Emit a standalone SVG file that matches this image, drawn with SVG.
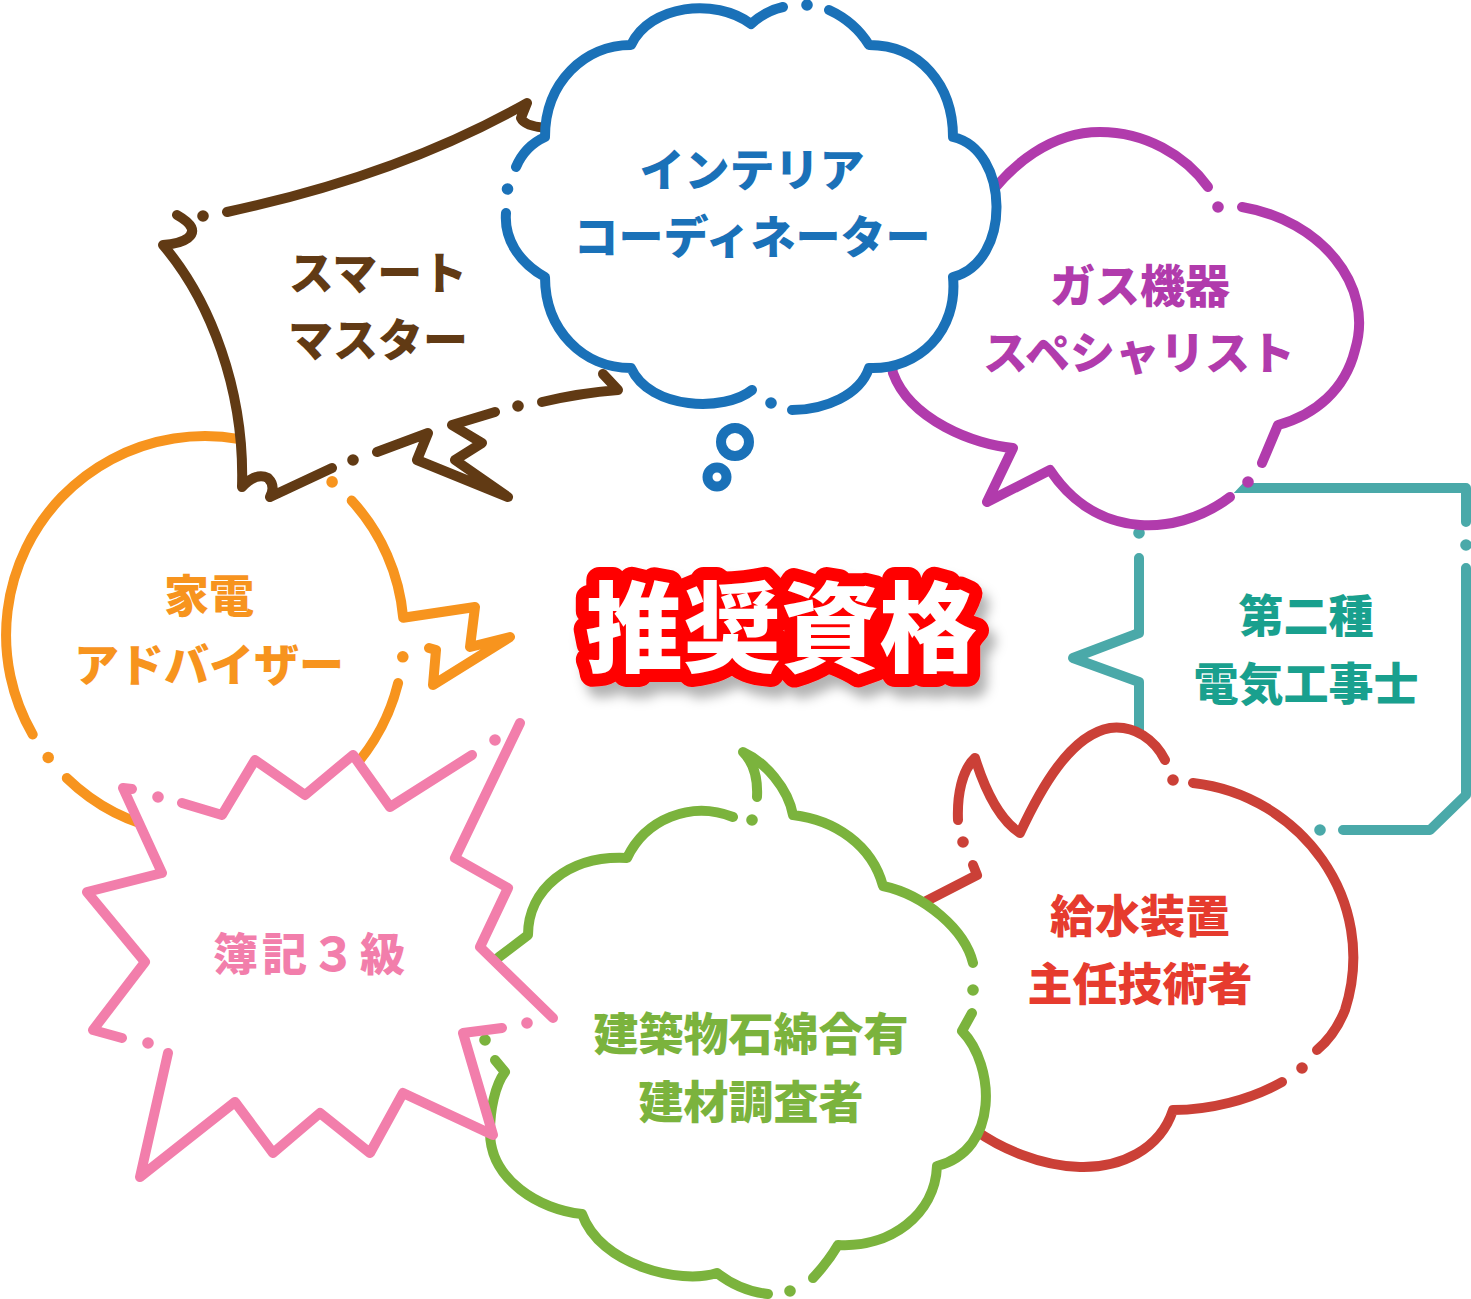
<svg xmlns="http://www.w3.org/2000/svg" width="1471" height="1299" viewBox="0 0 1471 1299">
<defs>
<style>
.ln{fill:none;stroke-width:10;stroke-linecap:round;stroke-linejoin:round}
.bg{fill:#fff;stroke:none}
.t{font-family:"Noto Sans CJK JP","Noto Sans CJK SC",sans-serif;font-weight:900;font-size:45px;text-anchor:middle}
.teal{stroke:#4aa9a9}.tealD{fill:#4aa9a9}
.red{stroke:#cb4037}.redD{fill:#cb4037}
.green{stroke:#7bb33d}.greenD{fill:#7bb33d}
.orange{stroke:#f7941e}.orangeD{fill:#f7941e}
.pink{stroke:#f27eab}.pinkD{fill:#f27eab}
.brown{stroke:#613a14}.brownD{fill:#613a14}
.purple{stroke:#b13bac}.purpleD{fill:#b13bac}
.blue{stroke:#1a71b8}.blueD{fill:#1a71b8}
</style>
<filter id="sh" x="-10%" y="-30%" width="130%" height="180%">
<feDropShadow dx="7" dy="11" stdDeviation="6" flood-color="#000" flood-opacity="0.3"/>
</filter>
</defs>
<rect width="1471" height="1299" fill="#fff"/>
<g id="connectors"/>

<g id="node-teal">
<path class="bg" d="M1139,488 L1466,488 L1466,795 L1430,830 L1139,830 L1139,682 L1073,658 L1139,633 Z"/>
<path class="ln teal" d="M1200,488 L1466,488 L1466,522"/>
<path class="ln teal" d="M1466,568 L1466,795 L1430,830 L1343,830"/>
<path class="ln teal" d="M1139,558 L1139,633 L1073,658 L1139,682 L1139,750"/>
<circle class="tealD" cx="1466" cy="545" r="5.8"/>
<circle class="tealD" cx="1320" cy="830" r="5.8"/>
<circle class="tealD" cx="1139" cy="533" r="5.8"/>
<text class="t" x="1306" y="633" fill="#19a08e">第二種</text>
<text class="t" x="1306" y="701" fill="#19a08e">電気工事士</text>
</g>

<g id="node-red">
<path class="bg" d="M975,758 C985,790 1000,820 1020,833 C1040,790 1070,735 1110,728 C1135,725 1155,740 1165,760 L1193,783 C1300,795 1380,900 1345,1010 Q1335,1035 1317,1050 L1282,1082 C1250,1100 1210,1110 1173,1110 C1160,1150 1120,1168 1080,1167 C1040,1166 1000,1148 975,1130 L905,912 L977,875 L973,865 L958,820 C957,795 962,770 975,758 Z"/>
<path class="ln red" d="M958,820 C957,795 962,770 975,758 C985,790 1000,820 1020,833 C1040,790 1070,735 1110,728 C1135,725 1155,740 1165,760"/>
<path class="ln red" d="M1193,783 C1300,795 1380,900 1345,1010 Q1335,1035 1317,1050"/>
<path class="ln red" d="M1282,1082 C1250,1100 1210,1110 1173,1110 C1160,1150 1120,1168 1080,1167 C1040,1166 1000,1148 975,1130"/>
<path class="ln red" d="M973,865 L977,875 L905,912"/>
<circle class="redD" cx="1173" cy="780" r="5.8"/>
<circle class="redD" cx="1302" cy="1068" r="5.8"/>
<circle class="redD" cx="963" cy="842" r="5.8"/>
<text class="t" x="1140" y="933" fill="#e63b2e">給水装置</text>
<text class="t" x="1140" y="1001" fill="#e63b2e">主任技術者</text>
</g>

<g id="node-green">
<path class="bg" d="M743,752 C765,762 788,788 793,815 C835,820 872,845 883,886 C925,895 965,930 973,963 L972,1013 L962,1031 C995,1065 1000,1150 937,1166 C935,1215 890,1248 838,1245 Q828,1262 813,1278 L768,1294 Q740,1291 717,1273 C680,1285 600,1265 582,1214 C540,1210 490,1180 490,1132 C490,1110 495,1085 505,1072 L495,1060 L480,990 Q485,965 499,957 L528,935 C528,890 568,855 627,858 C645,820 690,800 733,817 L757,797 C758,778 753,762 743,752 Z"/>
<path class="ln green" d="M757,797 C758,778 753,762 743,752 C765,762 788,788 793,815 C835,820 872,845 883,886 C925,895 965,930 973,963"/>
<path class="ln green" d="M972,1013 L962,1031 C995,1065 1000,1150 937,1166 C935,1215 890,1248 838,1245 Q828,1262 813,1278"/>
<path class="ln green" d="M768,1294 Q740,1291 717,1273 C680,1285 600,1265 582,1214 C540,1210 490,1180 490,1132 C490,1110 495,1085 505,1072 L495,1060"/>
<path class="ln green" d="M480,990 Q485,965 499,957 L528,935 C528,890 568,855 627,858 C645,820 690,800 733,817"/>
<circle class="greenD" cx="973" cy="990" r="5.8"/>
<circle class="greenD" cx="790" cy="1291" r="5.8"/>
<circle class="greenD" cx="485" cy="1040" r="5.8"/>
<circle class="greenD" cx="752" cy="820" r="5.8"/>
<text class="t" x="751" y="1051" fill="#7bb33d">建築物石綿合有</text>
<text class="t" x="751" y="1119" fill="#7bb33d">建材調査者</text>
</g>

<g id="node-orange">
<circle class="bg" cx="205" cy="635" r="199"/>
<path class="ln orange" d="M298.4,459.3 A199,199 0 0 0 32.7,734.5"/>
<path class="ln orange" d="M351.7,500.6 A199,199 0 0 1 403.2,617.7 L475,607 L470,647 L510,637 L433,685 L436,650 L429,648"/>
<path class="ln orange" d="M398.1,683.1 A199,199 0 0 1 332.9,787.4"/>
<path class="ln orange" d="M66.8,778.1 A199,199 0 0 0 170.4,831"/>
<circle class="orangeD" cx="332.1" cy="481.9" r="5.8"/>
<circle class="orangeD" cx="402.8" cy="656.8" r="5.8"/>
<circle class="orangeD" cx="48.2" cy="757.5" r="5.8"/>
<text class="t" x="209" y="613" font-size="44" fill="#f7941e">家電</text>
<text class="t" x="209" y="682" font-size="44" fill="#f7941e">アドバイザー</text>
</g>

<g id="node-pink">
<path class="bg" d="M123,788 L162,873 L87,892 L145,962 L93,1030 L122,1038 L168,1053 L140,1177 L235,1102 L273,1153 L320,1113 L370,1153 L403,1093 L493,1135 L463,1033 L502,1028 L553,1018 L480,947 L508,888 L455,858 L520,723 L472,755 L390,807 L353,755 L305,795 L255,760 L222,815 L182,803 Z"/>
<path class="ln pink" d="M132,789 L123,788 L162,873 L87,892 L145,962 L93,1030 L122,1038"/>
<path class="ln pink" d="M168,1053 L140,1177 L235,1102 L273,1153 L320,1113 L370,1153 L403,1093 L493,1135 L463,1033 L502,1028"/>
<path class="ln pink" d="M553,1018 L480,947 L508,888 L455,858 L520,723"/>
<path class="ln pink" d="M472,755 L390,807 L353,755 L305,795 L255,760 L222,815 L182,803"/>
<circle class="pinkD" cx="148" cy="1043" r="5.8"/>
<circle class="pinkD" cx="527" cy="1023" r="5.8"/>
<circle class="pinkD" cx="495" cy="740" r="5.8"/>
<circle class="pinkD" cx="158" cy="797" r="5.8"/>
<text class="t" x="311" y="971" letter-spacing="4" fill="#f27eab">簿記３級</text>
</g>

<g id="node-brown">
<path class="bg" d="M177,215 Q200,228 188,238 Q180,244 163,245 C210,300 245,390 242,487 Q256,472 268,478 Q276,486 270,497 L332,468 L377,452 L428,433 L417,460 L508,497 L455,460 L482,443 L452,425 L495,412 L542,402 Q580,393 618,390 L603,374 L550,128 Q525,127 521,118 L527,103 Q400,175 227,212 Z"/>
<path class="ln brown" d="M177,215 Q200,228 188,238 Q180,244 163,245 C210,300 245,390 242,487 Q256,472 268,478 Q276,486 270,497 L332,468"/>
<path class="ln brown" d="M377,452 L428,433 L417,460 L508,497 L455,460 L482,443 L452,425 L495,412"/>
<path class="ln brown" d="M542,402 Q580,393 618,390 L603,374"/>
<path class="ln brown" d="M227,212 Q400,175 527,103 L521,118 Q525,127 550,128"/>
<circle class="brownD" cx="203" cy="216" r="5.8"/>
<circle class="brownD" cx="353" cy="460" r="5.8"/>
<circle class="brownD" cx="518" cy="406" r="5.8"/>
<text class="t" x="378" y="290" font-size="44" fill="#613a14">スマート</text>
<text class="t" x="378" y="357" font-size="44" fill="#613a14">マスター</text>
</g>

<g id="node-purple">
<path class="bg" d="M975,215 C1010,160 1055,132 1100,132 C1145,132 1185,155 1208,187 L1242,207 C1320,220 1375,285 1355,350 C1345,390 1315,415 1278,425 L1262,463 L1230,497 C1200,520 1165,527 1140,525 C1100,522 1070,500 1050,470 L987,502 L1013,448 C975,445 910,420 893,373 L890,355 Z"/>
<path class="ln purple" d="M975,215 C1010,160 1055,132 1100,132 C1145,132 1185,155 1208,187"/>
<path class="ln purple" d="M1242,207 C1320,220 1375,285 1355,350 C1345,390 1315,415 1278,425 L1262,463"/>
<path class="ln purple" d="M1230,497 C1200,520 1165,527 1140,525 C1100,522 1070,500 1050,470 L987,502 L1013,448 C975,445 910,420 893,373 L890,355"/>
<circle class="purpleD" cx="1218" cy="207" r="5.8"/>
<circle class="purpleD" cx="1248" cy="482" r="5.8"/>
<text class="t" x="1140" y="303" fill="#b13bac">ガス機器</text>
<text class="t" x="1139" y="370" fill="#b13bac">スペシャリスト</text>
</g>

<g id="node-blue">
<path class="bg" d="M631,45 C650,5 715,-3 751,24 Q765,11 783,7 Q805,0 829,10 Q855,22 869,45 C920,45 953,85 953,137 C1010,150 1012,262 953,277 C958,330 920,370 869,368 C860,395 825,410 792,410 Q770,410 752,390 C725,412 650,410 631,368 C583,368 545,330 545,277 C518,262 504,238 506,213 Q503,190 516,167 Q525,146 545,137 C545,82 585,45 631,45 Z"/>
<path class="ln blue" d="M516,167 Q525,146 545,137 C545,82 585,45 631,45 C650,5 715,-3 751,24 Q765,11 783,7"/>
<path class="ln blue" d="M829,10 Q855,22 869,45 C920,45 953,85 953,137 C1010,150 1012,262 953,277 C958,330 920,370 869,368 C860,395 825,410 792,410"/>
<path class="ln blue" d="M752,390 C725,412 650,410 631,368 C583,368 545,330 545,277 C518,262 504,238 506,213"/>
<circle class="blueD" cx="807" cy="5" r="5.8"/>
<circle class="blueD" cx="771" cy="403" r="5.8"/>
<circle class="blueD" cx="507.5" cy="189" r="5.8"/>
<circle class="ln blue" cx="735" cy="442" r="14" fill="#fff"/>
<circle class="ln blue" cx="717" cy="477" r="9.5" fill="#fff"/>
<text class="t" x="752" y="187" font-size="44" fill="#1a71b8">インテリア</text>
<text class="t" x="752" y="254" font-size="44" fill="#1a71b8">コーディネーター</text>
</g>

<g id="node-center">
<text x="781" y="664" font-family="'Noto Sans CJK JP','Noto Sans CJK SC',sans-serif" font-weight="900" font-size="98" text-anchor="middle" fill="#fff" stroke="#ff0000" stroke-width="26" stroke-linejoin="round" paint-order="stroke" filter="url(#sh)">推奨資格</text>
</g>
</svg>
